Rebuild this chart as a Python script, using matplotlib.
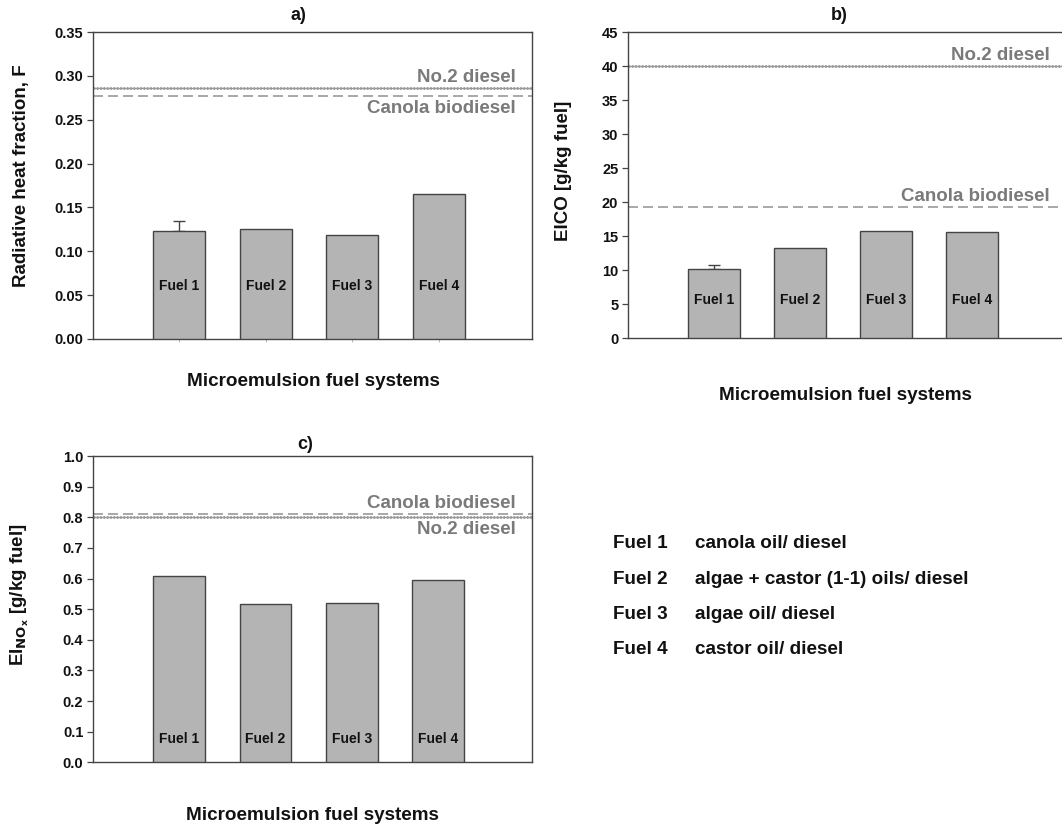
import matplotlib
matplotlib.use("Agg")
import matplotlib.pyplot as plt

plt.rcParams['font.family'] = ['Liberation Sans', 'DejaVu Sans']
plt.rcParams['font.weight'] = 'bold'

fuels = ["Fuel 1", "Fuel 2", "Fuel 3", "Fuel 4"]
positions = [1, 2, 3, 4]

rad_frac = [0.123, 0.125, 0.118, 0.165]
rad_err = [0.012, 0.0, 0.0, 0.0]
rad_diesel = 0.286
rad_canola = 0.2775

ei_co = [10.2, 13.3, 15.8, 15.6]
ei_co_err = [0.5, 0.0, 0.0, 0.0]
co_diesel = 40.0
co_canola = 19.3

ei_nox = [0.609, 0.516, 0.520, 0.596]
nox_diesel = 0.802
nox_canola = 0.811

legend_names = ["Fuel 1", "Fuel 2", "Fuel 3", "Fuel 4"]
legend_desc = ["canola oil/ diesel", "algae + castor (1-1) oils/ diesel",
               "algae oil/ diesel", "castor oil/ diesel"]

W, H = 1062, 826
fig = plt.figure(figsize=(W / 100, H / 100), dpi=100)

def ax_rect(l, r, t, b):
    return [l / W, 1 - b / H, (r - l) / W, (b - t) / H]

BAR_FACE = "#b4b4b4"
EDGE = "#444444"
REF = "#9a9a9a"
REF_TXT = "#7a7a7a"
TXT = "#111111"

def style(ax, ylim, yticks, fmt, xlim, right_spine=True):
    ax.set_ylim(*ylim)
    ax.set_xlim(*xlim)
    ax.set_yticks(yticks)
    ax.set_yticklabels([fmt.format(v) for v in yticks], fontsize=10.5,
                       fontweight='bold', color=TXT)
    ax.tick_params(axis='y', direction='out', length=4, width=0.9, color=EDGE, pad=3)
    for s in ax.spines.values():
        s.set_color(EDGE)
        s.set_linewidth(1.0)
    if not right_spine:
        ax.spines['right'].set_visible(False)

def bars(ax, vals, err, label_y):
    ax.bar(positions, vals, width=0.6, color=BAR_FACE, edgecolor=EDGE,
           linewidth=1.0, zorder=3)
    if err is not None:
        for p, v, e in zip(positions, vals, err):
            if e > 0:
                ax.errorbar([p], [v], yerr=[[0], [e]], fmt='none',
                            ecolor=EDGE, elinewidth=1.0, capsize=4,
                            capthick=1.0, zorder=2)
    for p, name in zip(positions, fuels):
        ax.text(p, label_y, name, ha='center', va='center', fontsize=10,
                fontweight='bold', color=TXT, zorder=4)

def ref_lines(ax, diesel, canola):
    ax.axhline(diesel, color=REF, lw=1.0, zorder=1)
    ax.axhline(diesel, color=REF, lw=2.0, ls=(0, (0.6, 0.6)), zorder=1)
    ax.axhline(canola, color=REF, lw=1.2, ls=(0, (6, 3)), zorder=1)

def ref_label(ax, val, txt, above, off_right):
    ax.annotate(txt, xy=(1, val), xycoords=('axes fraction', 'data'),
                xytext=(-off_right, 2 if above else -4),
                textcoords='offset pixels', ha='right',
                va='bottom' if above else 'top', fontsize=13.5,
                fontweight='bold', color=REF_TXT)

# Panel a
axa = fig.add_axes(ax_rect(93, 532, 32, 339))
style(axa, (0, 0.35), [0, 0.05, 0.10, 0.15, 0.20, 0.25, 0.30, 0.35], "{:.2f}", (0, 5.08))
axa.set_xticks(positions)
axa.set_xticklabels([])
axa.tick_params(axis='x', direction='out', length=2, width=0.6, color="#aaaaaa")
bars(axa, rad_frac, rad_err, 0.060)
ref_lines(axa, rad_diesel, rad_canola)
ref_label(axa, rad_diesel, "No.2 diesel", True, 16)
ref_label(axa, rad_canola, "Canola biodiesel", False, 16)

# Panel b
axb = fig.add_axes(ax_rect(628, 1062, 32, 338.3))
style(axb, (0, 45), list(range(0, 46, 5)), "{:d}", (0, 5.05), right_spine=False)
axb.set_xticks([])
bars(axb, ei_co, ei_co_err, 5.6)
ref_lines(axb, co_diesel, co_canola)
ref_label(axb, co_diesel, "No.2 diesel", True, 12)
ref_label(axb, co_canola, "Canola biodiesel", True, 12)

# Panel c
axc = fig.add_axes(ax_rect(93, 532, 456, 762.3))
style(axc, (0, 1.0), [i / 10 for i in range(11)], "{:.1f}", (0, 5.09))
axc.set_xticks([])
bars(axc, ei_nox, None, 0.076)
ref_lines(axc, nox_diesel, nox_canola)
ref_label(axc, nox_canola, "Canola biodiesel", True, 16)
ref_label(axc, nox_diesel, "No.2 diesel", False, 16)

# Titles
fig.text(298 / W, 1 - 16 / H, "a)", ha='center', va='center', fontsize=13, fontweight='bold', color=TXT)
fig.text(839 / W, 1 - 16 / H, "b)", ha='center', va='center', fontsize=13, fontweight='bold', color=TXT)
fig.text(305 / W, 1 - 445 / H, "c)", ha='center', va='center', fontsize=13, fontweight='bold', color=TXT)

# X labels
fig.text(313 / W, 1 - 382 / H, "Microemulsion fuel systems", ha='center', va='center',
         fontsize=13.6, fontweight='bold', color=TXT)
fig.text(845 / W, 1 - 396 / H, "Microemulsion fuel systems", ha='center', va='center',
         fontsize=13.6, fontweight='bold', color=TXT)
fig.text(312 / W, 1 - 815 / H, "Microemulsion fuel systems", ha='center', va='center',
         fontsize=13.6, fontweight='bold', color=TXT)

# Y labels
fig.text(22 / W, 1 - 176 / H, "Radiative heat fraction, F", rotation=90, ha='center',
         va='center', fontsize=13.5, fontweight='bold', color=TXT)
fig.text(563 / W, 1 - 171 / H, "EICO [g/kg fuel]", rotation=90, ha='center',
         va='center', fontsize=13.5, fontweight='bold', color=TXT)
fig.text(20 / W, 1 - 595 / H, r"EI$_{\mathbf{NO_x}}$ [g/kg fuel]", rotation=90, ha='center',
         va='center', fontsize=13.5, fontweight='bold', color=TXT)

# Legend text
for i, (n, d) in enumerate(zip(legend_names, legend_desc)):
    y = 544 + i * 35.2
    fig.text(613 / W, 1 - y / H, n, ha='left', va='center', fontsize=13.6,
             fontweight='bold', color=TXT)
    fig.text(695 / W, 1 - y / H, d, ha='left', va='center', fontsize=13.6,
             fontweight='bold', color=TXT)

fig.savefig("out.png", dpi=100)
